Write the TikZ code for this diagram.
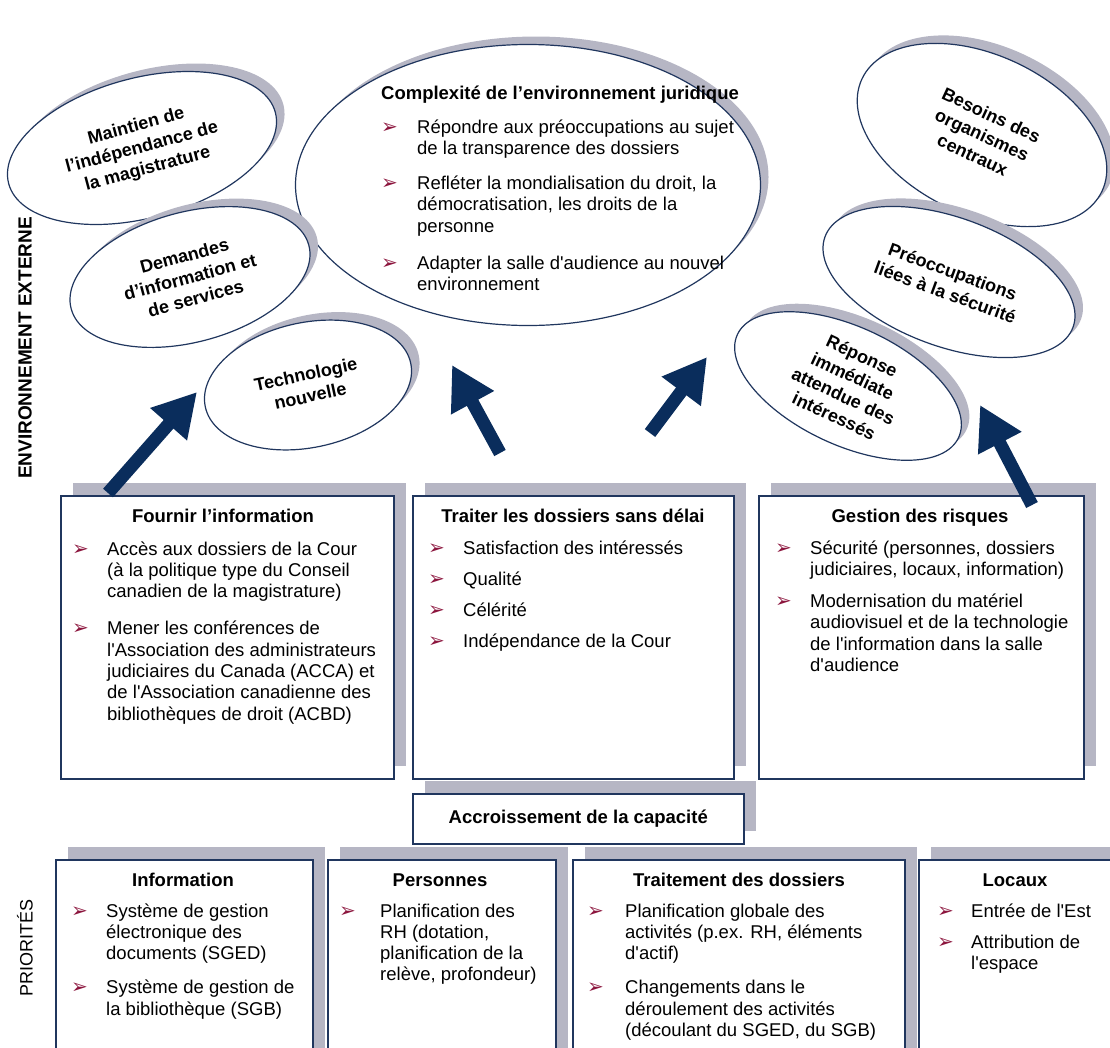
\documentclass[tikz,border=0pt]{standalone}
\usepackage{fontspec}
\setmainfont{Liberation Sans}[Ligatures=TeXOff]
\newfontfamily\symfont{DejaVu Sans}
\usepackage{tikz}
\usetikzlibrary{shapes.geometric,arrows.meta,shadows}
\definecolor{linenavy}{RGB}{32,54,94}
\definecolor{arrownavy}{RGB}{10,45,92}
\definecolor{bulletred}{RGB}{140,22,62}
\definecolor{shadegray}{RGB}{182,182,196}

\newcommand{\bodysize}{\fontsize{18.5pt}{21.3pt}\selectfont}
\newcommand{\bul}{{\fontsize{20pt}{20pt}\symfont\textcolor{bulletred}{➢}}}
\newenvironment{blist}[1][35pt]{\begin{tabular}[t]{@{}p{#1}@{}l@{}}}{\end{tabular}}

\tikzset{
  bubble/.style={ellipse, draw=linenavy, line width=1.2pt, fill=white, inner sep=0pt,
    align=center, font={\fontsize{18pt}{22pt}\selectfont\bfseries},
    drop shadow={shadow xshift=8pt, shadow yshift=8pt, fill=shadegray, opacity=1}},
  panel/.style={rectangle, draw=linenavy, line width=1.5pt, fill=white, inner sep=0pt,
    anchor=north west,
    drop shadow={shadow xshift=12pt, shadow yshift=13pt, fill=shadegray, opacity=1}},
  ptitle/.style={anchor=base, inner sep=0pt, font=\bodysize\bfseries},
  items/.style={anchor=base west, inner sep=0pt, font=\bodysize},
  sidelabel/.style={rotate=90, inner sep=0pt},
  bigarrow/.style={draw=arrownavy, line width=13pt, -{Triangle[length=43pt,width=46pt]}}
}

\begin{document}
\begin{tikzpicture}[x=1pt, y=-1pt]
  \useasboundingbox (0,0) rectangle (1110,1047);
  \clip (0,0) rectangle (1110,1047);

  % side labels
  \node[sidelabel, font={\fontsize{19pt}{19pt}\selectfont\bfseries}] (env) at (25,348) {ENVIRONNEMENT EXTERNE};
  \node[sidelabel, font={\fontsize{18pt}{18pt}\selectfont}] (prio) at (25,948) {PRIORITÉS};

  % external environment
  \node[bubble, minimum width=465pt, minimum height=281pt] (legal) at (528,185) {};
  \node[bubble, rotate=15, minimum width=276pt, minimum height=140pt] (judges) at (142,148) {Maintien de\\l’indépendance de\\la magistrature};
  \node[bubble, rotate=15, minimum width=246pt, minimum height=130pt] (requests) at (190,277) {Demandes\\d’information et\\de services};
  \node[bubble, rotate=12, minimum width=210pt, minimum height=125pt] (techno) at (308,385) {Technologie\\nouvelle};
  \node[bubble, rotate=-25, minimum width=265pt, minimum height=160pt] (agencies) at (982,135) {Besoins des\\organismes\\centraux};
  \node[bubble, rotate=-25, minimum width=244pt, minimum height=118pt] (response) at (848,386) {Réponse\\immédiate\\attendue des\\intéressés};
  \node[bubble, rotate=-20, minimum width=264pt, minimum height=129pt] (security) at (949,282) {Préoccupations\\liées à la sécurité};

  \node[ptitle] (legal-t) at (560,99) {Complexité de l’environnement juridique};
  \node[items] (legal-l) at (381,133) {\begin{blist}[36pt]
    \bul & Répondre aux préoccupations au sujet\\
         & de la transparence des dossiers\\[14pt]
    \bul & Refléter la mondialisation du droit, la\\
         & démocratisation, les droits de la\\
         & personne\\[16pt]
    \bul & Adapter la salle d'audience au nouvel\\
         & environnement
  \end{blist}};

  % middle row
  \node[panel, minimum width=333pt, minimum height=283pt] (provide) at (60,495) {};
  \node[panel, minimum width=321pt, minimum height=283pt] (process) at (412,495) {};
  \node[panel, minimum width=325pt, minimum height=283pt] (risk) at (758,495) {};
  \node[panel, minimum width=331pt, minimum height=50pt, font=\bodysize\bfseries] (capacity) at (412,793) {Accroissement de la capacité};

  \node[ptitle] (provide-t) at (223,522.7) {Fournir l’information};
  \node[items] (provide-l) at (72,555) {\begin{blist}
    \bul & Accès aux dossiers de la Cour\\
         & (à la politique type du Conseil\\
         & canadien de la magistrature)\\[16pt]
    \bul & Mener les conférences de\\
         & l'Association des administrateurs\\
         & judiciaires du Canada (ACCA) et\\
         & de l'Association canadienne des\\
         & bibliothèques de droit (ACBD)
  \end{blist}};

  \node[ptitle] (process-t) at (573,522.7) {Traiter les dossiers sans délai};
  \node[items] (process-l) at (428,554) {\begin{blist}
    \bul & Satisfaction des intéressés\\[10pt]
    \bul & Qualité\\[10pt]
    \bul & Célérité\\[10pt]
    \bul & Indépendance de la Cour
  \end{blist}};

  \node[ptitle] (risk-t) at (920,522.7) {Gestion des risques};
  \node[items] (risk-l) at (775,554) {\begin{blist}
    \bul & Sécurité (personnes, dossiers\\
         & judiciaires, locaux, information)\\[11pt]
    \bul & Modernisation du matériel\\
         & audiovisuel et de la technologie\\
         & de l'information dans la salle\\
         & d'audience
  \end{blist}};

  % priorities
  \node[panel, minimum width=257pt, minimum height=220pt] (info) at (55,859) {};
  \node[panel, minimum width=228pt, minimum height=220pt] (people) at (327,859) {};
  \node[panel, minimum width=332pt, minimum height=220pt] (files) at (572,859) {};
  \node[panel, minimum width=230pt, minimum height=220pt] (premises) at (918,859) {};

  \node[ptitle] (info-t) at (183,886) {Information};
  \node[items] (info-l) at (71,917) {\begin{blist}
    \bul & Système de gestion\\
         & électronique des\\
         & documents (SGED)\\[13pt]
    \bul & Système de gestion de\\
         & la bibliothèque (SGB)
  \end{blist}};

  \node[ptitle] (people-t) at (440,886) {Personnes};
  \node[items] (people-l) at (339,917) {\begin{blist}[41pt]
    \bul & Planification des\\
         & RH (dotation,\\
         & planification de la\\
         & relève, profondeur)
  \end{blist}};

  \node[ptitle] (files-t) at (739,886) {Traitement des dossiers};
  \node[items] (files-l) at (587,917) {\begin{blist}[38pt]
    \bul & Planification globale des\\
         & activités (p.ex. RH, éléments\\
         & d'actif)\\[13pt]
    \bul & Changements dans le\\
         & déroulement des activités\\
         & (découlant du SGED, du SGB)
  \end{blist}};

  \node[ptitle] (premises-t) at (1015,886) {Locaux};
  \node[items] (premises-l) at (937,917) {\begin{blist}[34pt]
    \bul & Entrée de l'Est\\[10pt]
    \bul & Attribution de\\
         & l'espace
  \end{blist}};

  % arrows
  \coordinate (a1-tail) at (108,493);  \coordinate (a1-tip) at (197,392);
  \coordinate (a2-tail) at (500,453);  \coordinate (a2-tip) at (452,365);
  \coordinate (a3-tail) at (650,433);  \coordinate (a3-tip) at (707,357);
  \coordinate (a4-tail) at (1032,505); \coordinate (a4-tip) at (980,405);
  \draw[bigarrow] (a1-tail) -- (a1-tip);
  \draw[bigarrow] (a2-tail) -- (a2-tip);
  \draw[bigarrow] (a3-tail) -- (a3-tip);
  \draw[bigarrow] (a4-tail) -- (a4-tip);
\end{tikzpicture}
\end{document}
